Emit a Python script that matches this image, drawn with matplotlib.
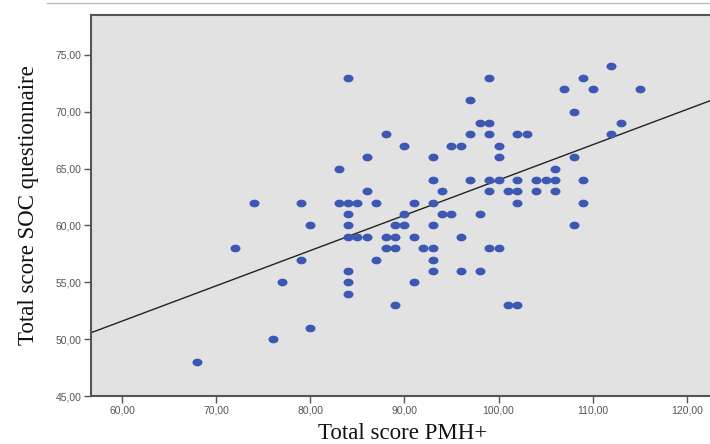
import numpy as np
import matplotlib
matplotlib.use("Agg")
import matplotlib.pyplot as plt
from matplotlib.path import Path
from matplotlib.lines import Line2D
from matplotlib.ticker import FuncFormatter

pmh = [68, 72, 74, 76, 77, 79, 79, 80, 80,
       83, 83, 84, 84, 84, 84, 84, 84, 84, 84,
       85, 85, 86, 86, 86, 87, 87, 88, 88, 88,
       89, 89, 89, 89, 90, 90, 90, 91, 91, 91,
       92, 93, 93, 93, 93, 93, 93, 93, 94, 94,
       95, 95, 96, 96, 96, 97, 97, 97, 98, 98, 98,
       99, 99, 99, 99, 99, 99, 100, 100, 100, 100,
       101, 101, 102, 102, 102, 102, 102, 103,
       104, 104, 105, 106, 106, 106, 107, 108, 108, 108,
       109, 109, 109, 110, 112, 112, 113, 115]
soc = [48, 58, 62, 50, 55, 62, 57, 60, 51,
       65, 62, 73, 62, 61, 60, 59, 56, 55, 54,
       62, 59, 66, 63, 59, 62, 57, 68, 59, 58,
       60, 59, 58, 53, 67, 61, 60, 62, 59, 55,
       58, 66, 64, 62, 60, 58, 57, 56, 63, 61,
       67, 61, 67, 59, 56, 71, 68, 64, 69, 61, 56,
       73, 69, 68, 64, 63, 58, 67, 66, 64, 58,
       63, 53, 68, 64, 63, 62, 53, 68,
       64, 63, 64, 65, 64, 63, 72, 70, 66, 60,
       73, 64, 62, 72, 74, 68, 69, 72]

x_ticks = [60, 70, 80, 90, 100, 110, 120]
y_ticks = [45, 50, 55, 60, 65, 70, 75]
x_label = "Total score PMH+"
y_label = "Total score SOC questionnaire"

W, H = 710, 444
fig = plt.figure(figsize=(W / 100, H / 100), dpi=100)
fig.patch.set_facecolor("white")
ax = fig.add_axes([91 / W, 1 - 396 / H, 624 / W, 381 / H])
ax.set_facecolor("#e2e2e2")
ax.set_xlim(56.7, 123.0)
ax.set_ylim(45, 78.5)

# elliptical marker
t = np.linspace(0, 2 * np.pi, 40)
ell = Path(np.column_stack([1.3 * np.cos(t), np.sin(t)]))
ax.plot(pmh, soc, linestyle="none", marker=ell, markersize=7.2,
        color="#3d58b2", markeredgewidth=0, zorder=3)

slope, intercept = np.polyfit(pmh, soc, 1)
xs = np.array(ax.get_xlim())
ax.plot(xs, intercept + slope * xs, color="#222222", linewidth=1.0, zorder=2)

ax.set_xticks(x_ticks)
ax.set_yticks(y_ticks)
fmt = FuncFormatter(lambda v, p: f"{v:.2f}".replace(".", ","))
ax.xaxis.set_major_formatter(fmt)
ax.yaxis.set_major_formatter(fmt)
ax.tick_params(direction="out", length=5, width=1, color="#555555",
               labelsize=7.5, labelcolor="#555555", pad=2)
for lab in ax.get_xticklabels() + ax.get_yticklabels():
    lab.set_family("Liberation Sans")

for s in ["left", "bottom", "top"]:
    ax.spines[s].set_color("#555555")
    ax.spines[s].set_linewidth(1.5)
ax.spines["right"].set_visible(False)

ax.set_xlabel(x_label, fontsize=16.5, family="Liberation Serif", labelpad=5, color="#111111")
ax.set_ylabel(y_label, fontsize=16.5, family="Liberation Serif", labelpad=12, color="#111111")

fig.add_artist(Line2D([47 / W, 1], [1 - 3 / H, 1 - 3 / H], color="#bbbbbb", linewidth=1))

fig.savefig("out.png", dpi=100)
